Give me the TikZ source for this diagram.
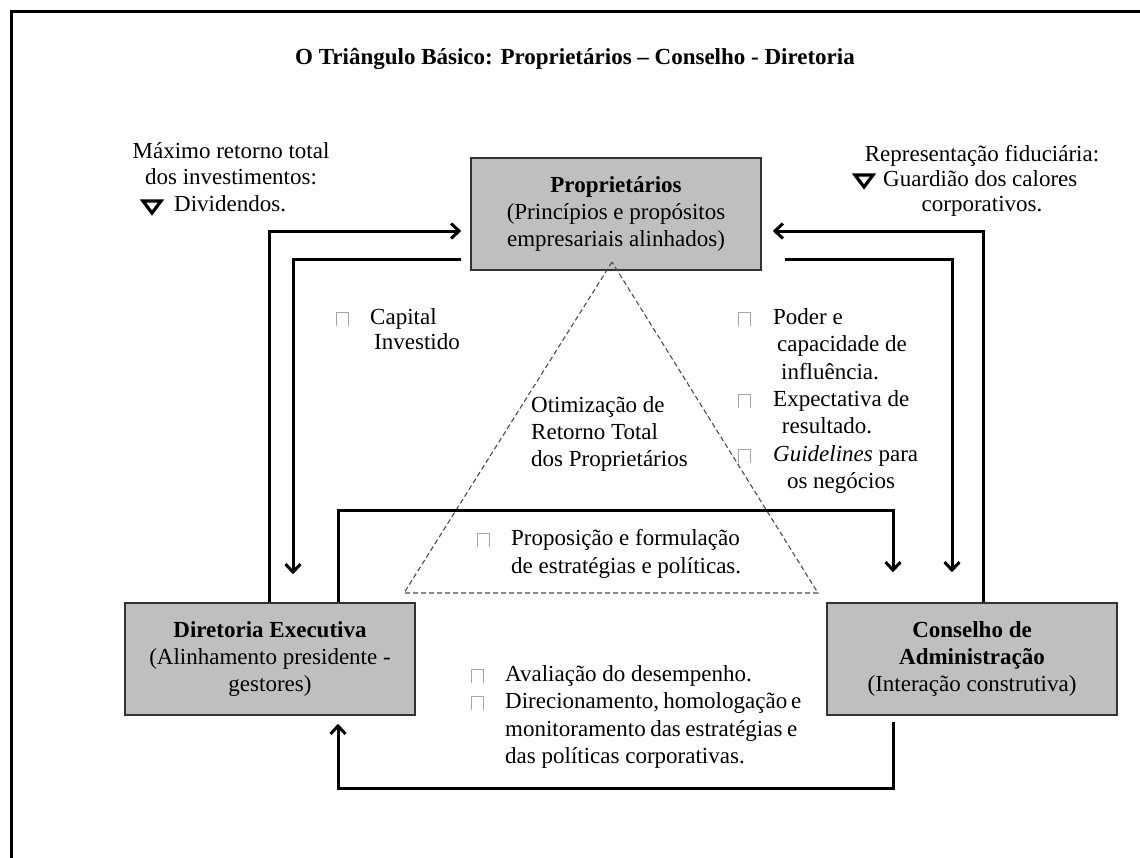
\documentclass[tikz,border=0pt]{standalone}
\usepackage{fontspec}
\setmainfont{Liberation Serif}
\usetikzlibrary{arrows.meta,calc}
\newcommand\fsz{\fontsize{23}{27}\selectfont}
\begin{document}
\begin{tikzpicture}[x=1pt,y=-1pt,
  box/.style={draw=black!80, line width=1.5pt, fill=black!25, minimum width=290pt, minimum height=112pt, inner sep=0pt, align=center, font=\fsz},
  conn/.style={line width=3pt},
  arr/.style={conn, -{Straight Barb[length=8pt,width=15pt]}},
  txt/.style={inner sep=0pt, font=\fsz, text height=17pt, text depth=5pt},
  bul/.style={draw=black!35, line width=0.8pt},
  tri/.style={line width=3.2pt, line join=miter},
  dashline/.style={draw=black!70, line width=1.1pt, dash pattern=on 5pt off 3pt}
]
\useasboundingbox (0,0) rectangle (1140,857);
\fill[white] (0,0) rectangle (1140,857);
\draw[line width=3pt] (11,870) -- (11,11) -- (1160,11);

\node[txt] (title) at (575,58) {\bfseries O Triângulo Básico: Proprietários – Conselho - Diretoria};

% boxes
\node[box] (P) at (616,214) {\textbf{Proprietários}\\(Princípios e propósitos\\empresariais alinhados)};
\node[box] (D) at (270,659) {\textbf{Diretoria Executiva}\\(Alinhamento presidente -\\gestores)};
\node[box] (C) at (972,659) {\textbf{Conselho de}\\\textbf{Administração}\\(Interação construtiva)};

% triangle
\coordinate (ta) at (612,262);
\coordinate (tl) at (404,593);
\coordinate (tr) at (818,593);
\draw[dashline] (ta) -- (tl) -- (tr) -- cycle;

% connectors
\draw[arr] ($(D.north)+(-1,0)$) |- ($(P.west)+(-9,17)$);
\draw[arr] ($(P.west)+(-9,45)$) -| ($(D.north)+(23,-28)$);
\draw[arr] ($(D.north)+(68,0)$) -- ($(D.north)+(68,-92)$) -| ($(C.north)+(-79,-30)$);
\draw[arr] ($(P.east)+(23,45)$) -| ($(C.north)+(-20,-30)$);
\draw[arr] ($(C.north)+(11,0)$) |- ($(P.east)+(11,17)$);
\draw[arr] ($(C.south)+(-79,6)$) -- ($(C.south)+(-79,73)$) -| ($(D.south)+(68,8)$);

% left top text
\node[txt] (l1) at (231,152) {Máximo retorno total};
\node[txt] (l2) at (231,178) {dos investimentos:};
\node[txt,anchor=west] (l3) at (174,205) {Dividendos.};
\draw[tri] (143,201) -- (161,201) -- (152,213) -- cycle;

% right top text
\node[txt] (r1) at (982,155) {Representação fiduciária:};
\node[txt,anchor=west] (r2) at (883,180) {Guardião dos calores};
\node[txt] (r3) at (982,205) {corporativos.};
\draw[tri] (855,175) -- (873,175) -- (864,187) -- cycle;

% capital
\node[txt,anchor=west] (c1) at (370,318) {Capital};
\node[txt,anchor=west] (c2) at (374,343) {Investido};
\draw[bul] (336,326) -- (336,312) -- (348,312) -- (348,326);

% centre
\node[txt,anchor=west] (o1) at (531,406) {Otimização de};
\node[txt,anchor=west] (o2) at (531,433) {Retorno Total};
\node[txt,anchor=west] (o3) at (531,460) {dos Proprietários};

% right column
\node[txt,anchor=west] (p1) at (773,318) {Poder e};
\node[txt] (p2) at (842,345) {capacidade de};
\node[txt] (p3) at (830,373) {influência.};
\node[txt,anchor=west] (p4) at (773,400) {Expectativa de};
\node[txt] (p5) at (827,427) {resultado.};
\node[txt,anchor=west] (p6) at (773,455) {\textit{Guidelines} para};
\node[txt] (p7) at (841,482) {os negócios};
\draw[bul] (738,326) -- (738,312) -- (750,312) -- (750,326);
\draw[bul] (738,408) -- (738,394) -- (750,394) -- (750,408);
\draw[bul] (738,463) -- (738,449) -- (750,449) -- (750,463);

% proposicao
\node[txt,anchor=west] (q1) at (511,539) {Proposição e formulação};
\node[txt,anchor=west] (q2) at (511,567) {de estratégias e políticas.};
\draw[bul] (477,547) -- (477,533) -- (489,533) -- (489,547);

% bottom
\node[txt,anchor=west] (b1) at (505,675) {Avaliação do desempenho.};
\node[txt,anchor=west] (b2) at (505,702) {\makebox[295pt][s]{Direcionamento, homologação e}};
\node[txt,anchor=west] (b3) at (505,730) {\makebox[292pt][s]{monitoramento das estratégias e}};
\node[txt,anchor=west] (b4) at (505,757) {das políticas corporativas.};
\draw[bul] (471,683) -- (471,669) -- (483,669) -- (483,683);
\draw[bul] (471,710) -- (471,696) -- (483,696) -- (483,710);
\end{tikzpicture}
\end{document}
